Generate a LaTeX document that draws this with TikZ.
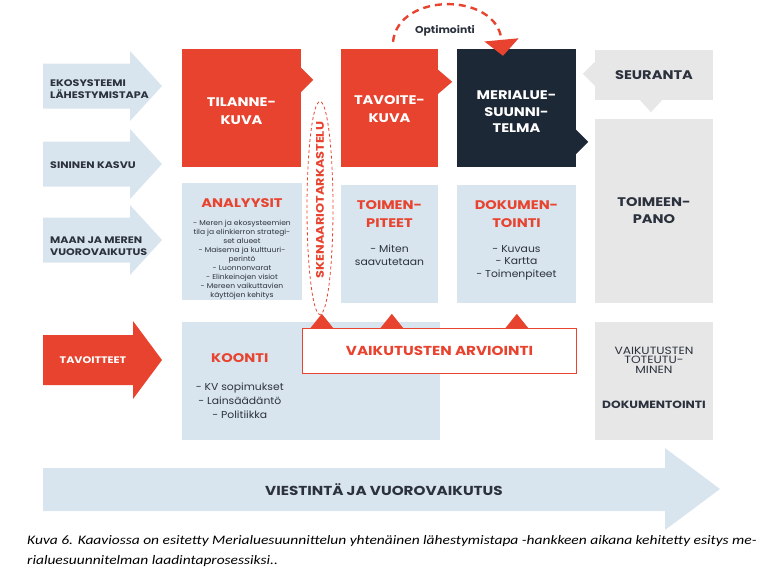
\documentclass[tikz,border=0pt]{standalone}
\usepackage{fontspec}
\setmainfont{Poppins}[FakeStretch=1.08]
\newfontfamily\headfont{Poppins}[FakeStretch=1.17]
\newfontfamily\capfont{Carlito}[FakeStretch=1.19]
\usepackage{tikz}
\usetikzlibrary{shapes.geometric, arrows.meta, positioning, calc}
\definecolor{myred}{RGB}{232,67,47}
\definecolor{mynavy}{RGB}{29,40,54}
\definecolor{mydark}{RGB}{43,50,62}
\definecolor{mylight}{RGB}{217,229,238}
\definecolor{mygray}{RGB}{231,231,231}
\tikzset{
  redbox/.style={rectangle, fill=myred, inner sep=0pt},
  navybox/.style={rectangle, fill=mynavy, inner sep=0pt},
  lightbox/.style={rectangle, fill=mylight, inner sep=0pt},
  graybox/.style={rectangle, fill=mygray, text=mydark, align=center,
    font=\headfont\bfseries\fontsize{12.5}{17}\selectfont, inner sep=0pt},
  headtext/.style={text=white, align=center, inner sep=0pt,
    font=\headfont\bfseries\fontsize{12.5}{18}\selectfont},
  redtitle/.style={text=myred, align=center, inner sep=0pt,
    font=\headfont\bfseries\fontsize{12.5}{18}\selectfont},
  bodytext/.style={text=mydark, align=center, inner sep=0pt,
    font=\fontsize{10}{13}\selectfont},
  smalltext/.style={text=mydark, align=center, inner sep=0pt,
    font=\fontsize{7}{9}\selectfont},
  arrowtext/.style={text=mydark, align=left, inner sep=0pt,
    font=\headfont\bfseries\fontsize{9.5}{12}\selectfont},
  optarc/.style={myred, line width=2.4pt, dash pattern=on 7pt off 5pt,
    -{Triangle[length=16pt, width=34pt]}},
  scenario/.style={ellipse, draw=myred, line width=0.8pt,
    dash pattern=on 3pt off 2.5pt, inner sep=0pt}
}

\begin{document}
\begin{tikzpicture}[x=1pt, y=-1pt]
  \useasboundingbox (0,0) rectangle (779,574);

  % left input arrows
  \foreach \yc/\ty/\nm/\txt in {86/89/eko/{EKOSYSTEEMI\\LÄHESTYMISTAPA},
      164/165/sininen/{SININEN KASVU}, 240/246/maameri/{MAAN JA MEREN\\VUOROVAIKUTUS}} {
    \fill[mylight] (43,\yc-22.5) -- (130,\yc-22.5) -- (130,\yc-35) -- (162,\yc)
      -- (130,\yc+35) -- (130,\yc+22.5) -- (43,\yc+22.5) -- cycle;
    \node[arrowtext, anchor=west] (\nm) at (50,\ty) {\txt};
  }
  \fill[myred] (43,335) -- (133,335) -- (133,321) -- (162,360) -- (133,399)
    -- (133,385) -- (43,385) -- cycle;
  \node[arrowtext, text=white] (tavoitteet) at (93,360) {TAVOITTEET};

  % top row
  \node[redbox, minimum width=119pt, minimum height=118pt] (tilanne) at (241.5,108) {};
  \node[redbox, minimum width=97pt, minimum height=118pt] (tavoite) at (389.5,108) {};
  \node[navybox, minimum width=119pt, minimum height=118pt] (suunnitelma) at (516.5,108) {};
  \node[headtext] (tilanne-t) at ($(tilanne.center)+(0,3)$) {TILANNE-\\KUVA};
  \node[headtext] (tavoite-t) at ($(tavoite.center)+(0,1)$) {TAVOITE-\\KUVA};
  \node[headtext, font=\headfont\bfseries\fontsize{12.5}{16.5}\selectfont] (suunnitelma-t) at ($(suunnitelma.center)+(0,4)$) {MERIALUE-\\SUUNNI-\\TELMA};
  \node[graybox, minimum width=118pt, minimum height=50pt] (seuranta) at (654,75) {SEURANTA};
  \node[graybox, minimum width=118pt, minimum height=184pt] (toimeenpano) at (654,211) {TOIMEEN-\\PANO};
  \fill[myred] ($(tilanne.north east)+(0,19)$) -- ++(12,12) -- ++(-12,12) -- cycle;
  \fill[myred] ($(tavoite.north east)+(0,21)$) -- ++(14,12) -- ++(-14,12) -- cycle;
  \fill[mynavy] ($(suunnitelma.north east)+(0,81)$) -- ++(12,12) -- ++(-12,12) -- cycle;
  \fill[mygray] ($(seuranta.north west)+(0,12)$) -- ++(-12,12) -- ++(12,12) -- cycle;
  \fill[mygray] ($(seuranta.south)+(-14,0)$) -- ++(11,12) -- ++(11,-12) -- cycle;

  % optimointi loop
  \coordinate (opt-a) at ($(tavoite.north)+(3.5,-7)$);
  \coordinate (opt-b) at ($(suunnitelma.north)+(-13.5,7)$);
  \draw[optarc] (opt-a) .. controls +(5,-50) and +(-6,-64) .. (opt-b);
  \node[text=mydark, font=\bfseries\fontsize{10}{12}\selectfont] (optimointi) at (445,31) {Optimointi};

  % middle row
  \node[lightbox, minimum width=120pt, minimum height=117pt] (analyysit) at (242,241.5) {};
  \node[redtitle, below=16pt of analyysit.north] (analyysit-t) {ANALYYSIT};
  \node[smalltext, below=12pt of analyysit-t] (analyysit-l) {- Meren ja ekosysteemien\\tila ja elinkierron strategi-\\set alueet\\- Maisema ja kulttuuri-\\perintö\\- Luonnonvarat\\- Elinkeinojen visiot\\- Mereen vaikuttavien\\käyttöjen kehitys};
  \node[lightbox, minimum width=97pt, minimum height=118pt] (toimenpiteet) at (389.5,244) {};
  \node[redtitle, below=16pt of toimenpiteet.north] (toimenpiteet-t) {TOIMEN-\\PITEET};
  \node[bodytext, below=17pt of toimenpiteet-t] (toimenpiteet-l) {- Miten\\saavutetaan};
  \node[lightbox, minimum width=119pt, minimum height=118pt] (dokumentointi) at (516.5,244) {};
  \node[redtitle, below=16pt of dokumentointi.north] (dokumentointi-t) {DOKUMEN-\\TOINTI};
  \node[bodytext, below=17pt of dokumentointi-t, font=\fontsize{10}{12.5}\selectfont] (dokumentointi-l) {- Kuvaus\\- Kartta\\- Toimenpiteet};

  % scenario ellipse
  \node[scenario, minimum width=26pt, minimum height=213pt] (skenaario) at (320,208) {};
  \node[rotate=90, text=myred, inner sep=0pt, font=\headfont\bfseries\fontsize{11}{12}\selectfont] (skenaario-t) at (320,200) {SKENAARIOTARKASTELU};

  % bottom row
  \node[lightbox, minimum width=258pt, minimum height=118pt] (koonti) at (311,381) {};
  \node[redtitle] (koonti-t) at ($(koonti.north west)+(58,36)$) {KOONTI};
  \node[bodytext, below=20pt of koonti-t, font=\fontsize{10}{14}\selectfont] (koonti-l) {- KV sopimukset\\- Lainsäädäntö\\- Politiikka};
  \foreach \dx in {20,90,215}
    \fill[myred] ($(koonti.north west)+(120+\dx-12,7)$) -- ++(12,-15) -- ++(12,15) -- cycle;
  \node[draw=myred, line width=1.6pt, fill=white, minimum width=274pt, minimum height=45pt,
    text=myred, font=\headfont\bfseries\fontsize{13}{16}\selectfont] (arviointi) at (439.5,351) {VAIKUTUSTEN ARVIOINTI};
  \node[lightbox, fill=mygray, minimum width=118pt, minimum height=118pt] (toteutuminen) at (654,381) {};
  \node[bodytext, font=\headfont\fontsize{10.5}{9.5}\selectfont] (toteutuminen-t) at ($(toteutuminen.center)+(0,-21)$) {VAIKUTUSTEN\\TOTEUTU-\\MINEN};
  \node[bodytext, font=\headfont\bfseries\fontsize{10.5}{12}\selectfont] (toteutuminen-d) at ($(toteutuminen.center)+(0,24)$) {DOKUMENTOINTI};

  % communication arrow
  \fill[mylight] (43,468) -- (665,468) -- (665,448) -- (720,489) -- (665,530)
    -- (665,511) -- (43,511) -- cycle;
  \node[text=mydark, font=\headfont\bfseries\fontsize{13}{15}\selectfont] (viestinta) at (384,490) {VIESTINTÄ JA VUOROVAIKUTUS};

  \node[anchor=north west, align=left, inner sep=0pt, font=\capfont\itshape\fontsize{13}{20}\selectfont] (kuva) at (27,535)
    {Kuva 6. Kaaviossa on esitetty Merialuesuunnittelun yhtenäinen lähestymistapa -hankkeen aikana kehitetty esitys me-\\rialuesuunnitelman laadintaprosessiksi..};
\end{tikzpicture}
\end{document}
